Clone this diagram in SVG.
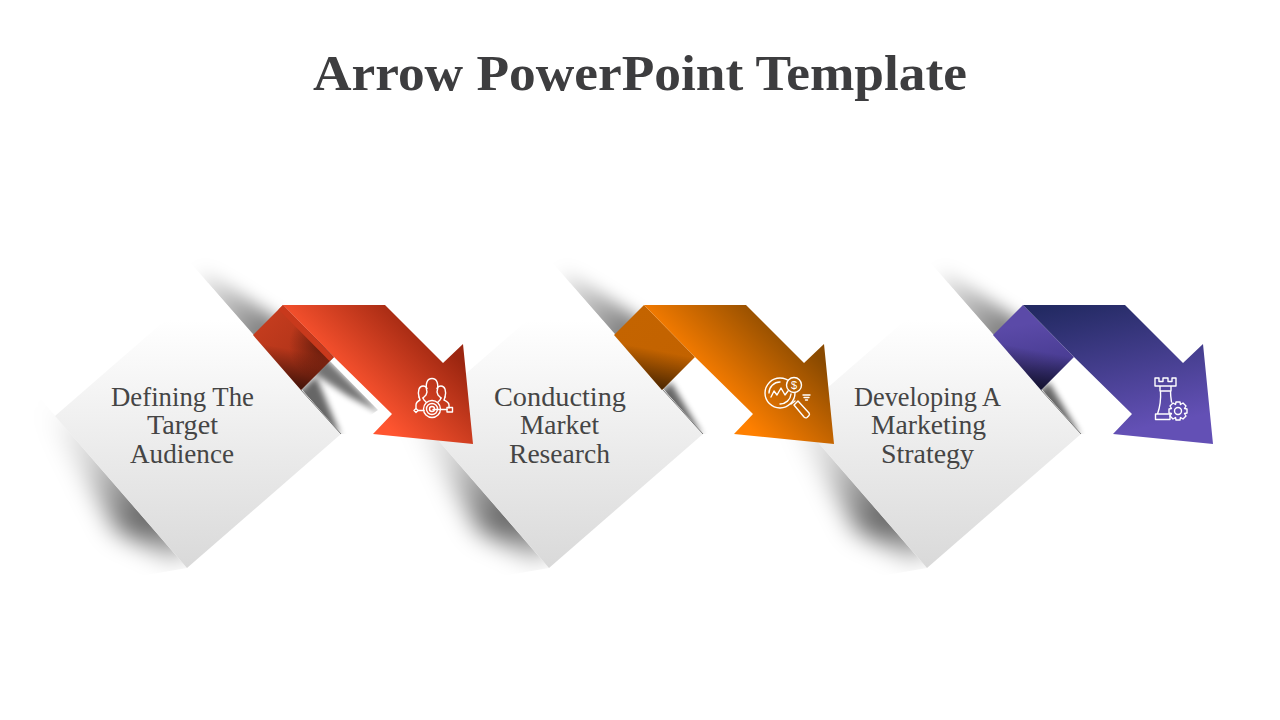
<svg xmlns="http://www.w3.org/2000/svg" width="1280" height="720" viewBox="0 0 1280 720">
<style>
.t{font-family:"Liberation Serif","Times New Roman",serif;fill:#454545;font-size:27px;text-anchor:middle}
.h{font-family:"Liberation Serif","Times New Roman",serif;fill:#3d3d3f;font-size:50px;font-weight:700;text-anchor:middle}
.i{fill:none;stroke:#fff;stroke-width:1.4;stroke-linecap:round;stroke-linejoin:round}
.d{font-family:"Liberation Sans",Arial,sans-serif;fill:#fff;font-size:11px;text-anchor:middle}
.dia{fill:url(#gd)}
.su{fill:url(#su);filter:url(#b1)}
.sl{fill:url(#sl);filter:url(#b2)}
.sa{fill:#000;opacity:.6;filter:url(#b3)}
.ln{stroke:#333;stroke-width:1;opacity:.6}
.ed{fill:url(#ed)}
</style>
<defs>
<linearGradient id="gd" gradientUnits="userSpaceOnUse" x1="0" y1="320" x2="0" y2="568"><stop offset="0" stop-color="#fff"/><stop offset="1" stop-color="#d9d9d9"/></linearGradient>
<linearGradient id="r1" gradientUnits="userSpaceOnUse" x1="330" y1="370" x2="400" y2="300"><stop offset="0" stop-color="#ff5530"/><stop offset="1" stop-color="#9c2610"/></linearGradient>
<linearGradient id="r2" gradientUnits="userSpaceOnUse" x1="330" y1="370" x2="400" y2="300"><stop offset="0" stop-color="#ff8000"/><stop offset="1" stop-color="#8a4a00"/></linearGradient>
<linearGradient id="r3" gradientUnits="userSpaceOnUse" x1="320" y1="305" x2="350" y2="440"><stop offset="0" stop-color="#232a63"/><stop offset="1" stop-color="#6350b5"/></linearGradient>
<linearGradient id="f1" gradientUnits="userSpaceOnUse" x1="265" y1="320" x2="320" y2="375"><stop offset="0" stop-color="#c43c1e"/><stop offset="1" stop-color="#a83016"/></linearGradient>
<linearGradient id="f2" gradientUnits="userSpaceOnUse" x1="265" y1="320" x2="320" y2="375"><stop offset="0" stop-color="#c46400"/><stop offset="1" stop-color="#c26200"/></linearGradient>
<linearGradient id="f3" gradientUnits="userSpaceOnUse" x1="280" y1="325" x2="290" y2="390"><stop offset="0" stop-color="#5b4aa8"/><stop offset=".6" stop-color="#4a3d94"/><stop offset="1" stop-color="#332e78"/></linearGradient>
<linearGradient id="ed" gradientUnits="userSpaceOnUse" x1="298" y1="388" x2="305" y2="352"><stop offset="0" stop-color="#000" stop-opacity=".6"/><stop offset="1" stop-color="#000" stop-opacity="0"/></linearGradient>
<radialGradient id="cr" gradientUnits="userSpaceOnUse" cx="325" cy="345" r="36"><stop offset="0" stop-color="#4a1408" stop-opacity=".8"/><stop offset="1" stop-color="#4a1408" stop-opacity="0"/></radialGradient>
<linearGradient id="su" gradientUnits="userSpaceOnUse" x1="197" y1="268" x2="255" y2="338"><stop offset="0" stop-color="#000" stop-opacity="0"/><stop offset="1" stop-color="#000" stop-opacity=".5"/></linearGradient>
<linearGradient id="sl" gradientUnits="userSpaceOnUse" x1="45" y1="405" x2="185" y2="565"><stop offset="0" stop-color="#000" stop-opacity="0"/><stop offset=".35" stop-color="#000" stop-opacity=".18"/><stop offset=".72" stop-color="#000" stop-opacity=".62"/><stop offset="1" stop-color="#000" stop-opacity=".2"/></linearGradient>
<filter id="b1" x="-50%" y="-50%" width="200%" height="200%"><feGaussianBlur stdDeviation="8"/></filter>
<filter id="b2" x="-50%" y="-50%" width="200%" height="200%"><feGaussianBlur stdDeviation="12"/></filter>
<filter id="b3" x="-50%" y="-50%" width="200%" height="200%"><feGaussianBlur stdDeviation="3"/></filter>
<clipPath id="cu"><polygon points="190,262 253,335 341,434 420,434 420,200 190,200"/></clipPath>
<clipPath id="cl"><polygon points="25,381 187,568 0,600 0,381"/></clipPath>
<clipPath id="cb"><polygon points="330,361 378,410 341,436 290,395"/></clipPath>
</defs>
<rect width="1280" height="720" fill="#fff"/>
<text class="h" x="640" y="90" textLength="654" lengthAdjust="spacingAndGlyphs">Arrow PowerPoint Template</text>

<g id="node-3">
<g transform="translate(740 0)">
<g clip-path="url(#cu)"><polygon class="su" points="195,262 282,322 275,350 250,350 200,290"/><polygon class="sa" points="290,400 341,436 309,382"/></g>
<g clip-path="url(#cl)"><polygon class="sl" points="40,400 86,478 116,530 180,562 200,530 100,430"/></g>
<polygon class="dia" points="55,416 208,283 341,434 187,568"/>
<line class="ln" x1="301" y1="390" x2="341" y2="434"/>
</g>
<text class="t" x="927.500" y="406" textLength="147" lengthAdjust="spacingAndGlyphs">Developing A</text>
<text class="t" x="928.500" y="434" textLength="115" lengthAdjust="spacingAndGlyphs">Marketing</text>
<text class="t" x="927.500" y="463" textLength="93" lengthAdjust="spacingAndGlyphs">Strategy</text>
</g>

<g id="node-2">
<g transform="translate(362 0)">
<g clip-path="url(#cu)"><polygon class="su" points="195,262 282,322 275,350 250,350 200,290"/><polygon class="sa" points="290,400 341,436 309,382"/></g>
<g clip-path="url(#cl)"><polygon class="sl" points="40,400 86,478 116,530 180,562 200,530 100,430"/></g>
<polygon class="dia" points="55,416 208,283 341,434 187,568"/>
<line class="ln" x1="301" y1="390" x2="341" y2="434"/>
</g>
<text class="t" x="560" y="406" textLength="132" lengthAdjust="spacingAndGlyphs">Conducting</text>
<text class="t" x="559.500" y="434" textLength="79" lengthAdjust="spacingAndGlyphs">Market</text>
<text class="t" x="559.500" y="463" textLength="101" lengthAdjust="spacingAndGlyphs">Research</text>
</g>

<g id="node-1">
<g clip-path="url(#cu)"><polygon class="su" points="195,262 282,322 275,350 250,350 200,290"/><polygon class="sa" points="290,400 341,436 316,376"/></g>
<g clip-path="url(#cb)"><polygon points="326,358 382,414 348,396 312,372" fill="#000" opacity=".55" filter="url(#b3)"/></g>
<g clip-path="url(#cl)"><polygon class="sl" points="40,400 86,478 116,530 180,562 200,530 100,430"/></g>
<polygon class="dia" points="55,416 208,283 341,434 187,568"/>
<line class="ln" x1="301" y1="390" x2="341" y2="434"/>
<text class="t" x="182.500" y="406" textLength="143" lengthAdjust="spacingAndGlyphs">Defining The</text>
<text class="t" x="182.500" y="434" textLength="71" lengthAdjust="spacingAndGlyphs">Target</text>
<text class="t" x="182" y="463" textLength="104" lengthAdjust="spacingAndGlyphs">Audience</text>
</g>

<g id="connectors">
<g id="arrow-3" transform="translate(740 0)">
<polygon points="253,335 283,305 334,357 301,390" fill="url(#f3)"/>
<polygon class="ed" points="253,335 301,390 334,357 283,305"/>
<polygon points="283,305 385,305 443,363 463,344 473,444 373,434 392,414 334,357" fill="url(#r3)"/>
</g>
<g id="arrow-2" transform="translate(361 0)">
<polygon points="253,335 283,305 334,357 301,390" fill="url(#f2)"/>
<polygon class="ed" points="253,335 301,390 334,357 283,305"/>
<polygon points="283,305 385,305 443,363 463,344 473,444 373,434 392,414 334,357" fill="url(#r2)"/>
</g>
<g id="arrow-1">
<polygon points="253,335 283,305 334,357 301,390" fill="url(#f1)"/>
<polygon class="ed" points="253,335 301,390 334,357 283,305"/>
<polygon points="253,335 301,390 334,357 283,305" fill="url(#cr)"/>
<polygon points="283,305 385,305 443,363 463,344 473,444 373,434 392,414 334,357" fill="url(#r1)"/>
<polygon points="283,305 333.500,357 329.500,361 278.500,309.500" fill="#c8391c"/>
</g>
</g>

<g id="icon-3" class="i">
<path d="M1155 378V386H1176V378H1172V381.500H1168V378H1163V381.500H1159V378ZM1160 386V391H1171V386M1160.500 391C1161 399 1160 407 1157.500 414H1169M1170.500 391C1170.500 395 1171 399 1171.500 402M1155.500 414H1170V419.500H1155.500Z"/>
<circle cx="1178" cy="411" r="3.500"/>
<path d="M1176 402H1180L1180.500 404.500L1183 403L1186 406L1184.500 408.500L1187 409V413L1184.500 413.500L1186 416L1183 419L1180.500 417.500L1180 420H1176L1175.500 417.500L1173 419L1170 416L1171.500 413.500L1169 413V409L1171.500 408.500L1170 406L1173 403L1175.500 404.500Z"/>
</g>
<g id="icon-2" class="i">
<circle cx="780" cy="393" r="15"/>
<path d="M769 393A11 11 0 0 1 780 382M791 394A11 11 0 0 1 780 404"/>
<path d="M771 397L774 391L777 395L781 388L785 395L788 391"/>
<circle cx="794" cy="385" r="7.500" fill="#b96200"/>
<path d="M791 404L795 401M803 395H810M804 397.500H809M805.500 400H807.500"/>
<path d="M794 405L798 401L809 413Q810 414.500 809 415.500L807 417.500Q805.500 418.500 804 417Z"/>
</g>
<text class="d" x="794" y="389">$</text>
<g id="icon-1" class="i">
<path d="M427 392C425 384 427 378.500 432 378.500C437 378.500 439 384 437 392L438 395L441 398M427 392L426 395L423 398"/>
<path d="M419 397C417.500 391 419 386 423 386C425 386 426.500 387 427 388.500M437 388.500C437.500 387 439 386 441 386C445 386 446.500 391 445 397"/>
<path d="M419 397L420 400C418 401 416 402 416 405V408M423 398L424 400L426 402M445 397L444 400C446 401 449 402 449 405V408M441 398L440 400L438 402"/>
<circle cx="432" cy="409" r="8.500"/>
<circle cx="432" cy="409" r="5.500"/>
<circle cx="432" cy="409" r="2.500"/>
<path d="M418 410.500H424M433 409.500H447"/>
<path d="M414 410.500L416 408.500L418 410.500L416 412.500ZM447 407.500H452.500V412H447Z"/>
</g>
</svg>
